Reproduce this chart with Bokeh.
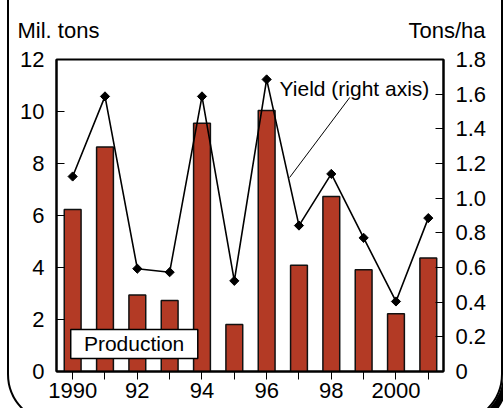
from bokeh.plotting import figure
from bokeh.models import (Range1d, LinearAxis, FixedTicker, Label, BoxAnnotation, NumeralTickFormatter,
                          InlineStyleSheet)
from bokeh.embed import file_html
from bokeh.resources import INLINE
import math

# ---- data ----
years = [1990, 1991, 1992, 1993, 1994, 1995, 1996, 1997, 1998, 1999, 2000, 2001]
production = [6.23, 8.63, 2.94, 2.73, 9.55, 1.81, 10.04, 4.09, 6.73, 3.91, 2.22, 4.37]
yield_tha = [1.125, 1.587, 0.593, 0.573, 1.587, 0.523, 1.685, 0.842, 1.14, 0.771, 0.404, 0.885]
left_ticks = [0, 2, 4, 6, 8, 10, 12]
right_ticks = [0, 0.2, 0.4, 0.6, 0.8, 1.0, 1.2, 1.4, 1.6, 1.8]
year_labels = {1990: "1990", 1992: "92", 1994: "94", 1996: "96", 1998: "98", 2000: "2000"}
left_title = "Mil. tons"
right_title = "Tons/ha"
yield_note = "Yield (right axis)"
prod_note = "Production"

FONT = "Liberation Sans"
BAR = "#B33A25"

frame_css = """
:host { position: relative; overflow: hidden; }
:host::after {
  content: "";
  position: absolute;
  left: 7px; top: -60px;
  width: 496px; height: 484px;
  box-sizing: border-box;
  border: 2px solid #000;
  border-radius: 50px;
  box-shadow: 5px 5px 0 0 #000;
  pointer-events: none;
}
"""

p = figure(width=503, height=408, output_backend="svg", toolbar_location=None,
           x_range=Range1d(1989.5, 2001.47), y_range=Range1d(0, 12),
           min_border_left=56, min_border_right=60, min_border_top=59, min_border_bottom=37,
           y_axis_location=None, x_axis_location=None)
p.stylesheets = [InlineStyleSheet(css=frame_css)]
p.xgrid.visible = False
p.ygrid.visible = False
p.outline_line_color = "black"
p.outline_line_width = 2
p.background_fill_color = "white"
p.border_fill_color = "white"
p.extra_y_ranges = {"yield": Range1d(0, 1.8)}

def style(ax, tin, tout, standoff):
    ax.major_tick_in = tin
    ax.major_tick_out = tout
    ax.minor_tick_in = 0
    ax.minor_tick_out = 0
    ax.axis_line_color = "black"
    ax.axis_line_width = 2
    ax.major_tick_line_color = "black"
    ax.major_tick_line_width = 1
    ax.major_label_text_font = FONT
    ax.major_label_text_font_size = "22px"
    ax.major_label_text_color = "black"
    ax.major_label_standoff = standoff

lax = LinearAxis(ticker=FixedTicker(ticks=left_ticks))
style(lax, 8, 0, 12)
p.add_layout(lax, "left")

rax = LinearAxis(y_range_name="yield", ticker=FixedTicker(ticks=right_ticks),
                 formatter=NumeralTickFormatter(format="0.0"))
rax.major_label_overrides = {0: "0"}
style(rax, 8, 0, 12)
p.add_layout(rax, "right")

bax = LinearAxis(ticker=FixedTicker(ticks=years))
bax.major_label_overrides = {y: year_labels.get(y, "") for y in years}
style(bax, 0, 8, 3)
p.add_layout(bax, "below")

p.vbar(x=years, top=production, width=0.52, fill_color=BAR, line_color="#111111", line_width=1.5)

p.line(years, yield_tha, y_range_name="yield", line_color="black", line_width=1.6)
p.scatter(years, yield_tha, y_range_name="yield", marker="square", size=6.5, angle=math.pi / 4,
          fill_color="black", line_color="black")

# annotations inside the plot area
p.line([1998.57, 1996.71], [10.54, 7.46], line_color="black", line_width=1)
p.add_layout(Label(x=1996.4, y=10.88, text=yield_note, text_font=FONT, text_font_size="21px",
                   text_color="black", text_baseline="alphabetic", text_align="left"))
p.add_layout(BoxAnnotation(left=1989.94, right=1993.87, bottom=0.5, top=1.615,
                           fill_color="white", fill_alpha=1, line_color="black", line_alpha=1,
                           line_width=1.5))
p.add_layout(Label(x=1991.9, y=1.06, text=prod_note, text_font=FONT, text_font_size="21px",
                   text_color="black", text_baseline="middle", text_align="center"))

# axis titles, in the top panel (not clipped to the plot area)
p.add_layout(Label(x=17, y=30, x_units="canvas", y_units="canvas", text=left_title, text_font=FONT,
                   text_font_size="22px", text_color="black", text_baseline="alphabetic"), "above")
p.add_layout(Label(x=485, y=30, x_units="canvas", y_units="canvas", text=right_title, text_font=FONT,
                   text_font_size="22px", text_color="black", text_baseline="alphabetic",
                   text_align="right"), "above")

open("out.html", "w").write(file_html(p, INLINE))
